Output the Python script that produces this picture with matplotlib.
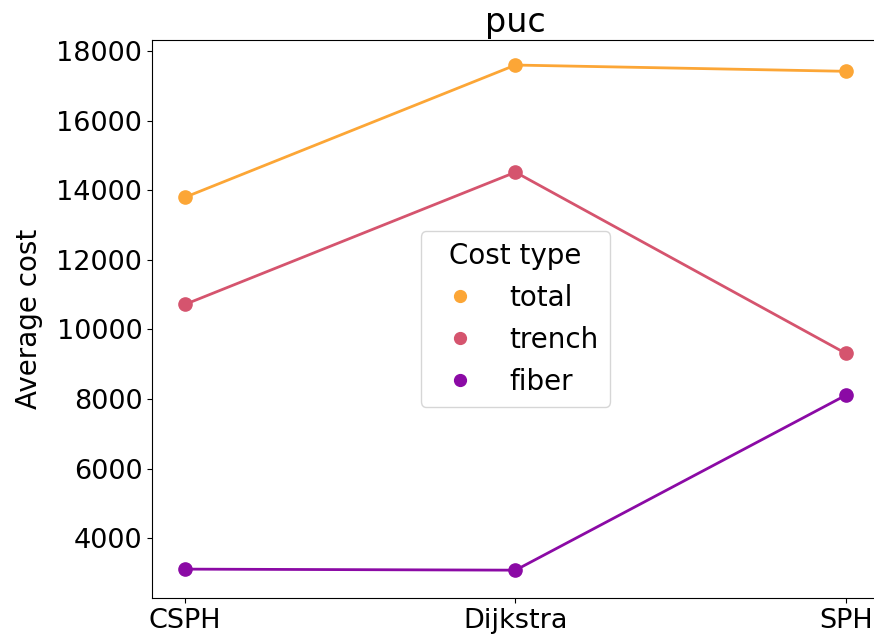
import numpy as np
import matplotlib
matplotlib.use("Agg")
import matplotlib.pyplot as plt
from matplotlib.lines import Line2D

methods = ["CSPH", "Dijkstra", "SPH"]
cost_types = ["total", "trench", "fiber"]
total = [13800, 17600, 17420]
trench = [10720, 14520, 9310]
fiber = [3110, 3080, 8110]
colors = ["#fca636", "#d5546e", "#8b0aa5"]

fig = plt.figure(figsize=(8.74, 6.38), dpi=100)
ax = fig.add_axes([0.1739, 0.0627, 0.8318, 0.8746])

x = np.arange(len(methods))
handles = []
for vals, name, c in zip([total, trench, fiber], cost_types, colors):
    ax.plot(x, vals, color=c, lw=2, marker="o", ms=9.5)
    handles.append(Line2D([], [], color=c, marker="o", ls="none", ms=8.5, label=name))

ax.set_xticks(x)
ax.set_xticklabels(methods)
ax.set_xlim(-0.1, 2.1)
ax.set_ylim(2280, 18320)
ax.tick_params(labelsize=19.5)
ax.set_ylabel("Average cost", fontsize=20, labelpad=10)
ax.set_title("puc", fontsize=24)
ax.legend(handles=handles, title="Cost type", loc="center", fontsize=20,
          title_fontsize=20)

fig.savefig("out.png", dpi=100)
